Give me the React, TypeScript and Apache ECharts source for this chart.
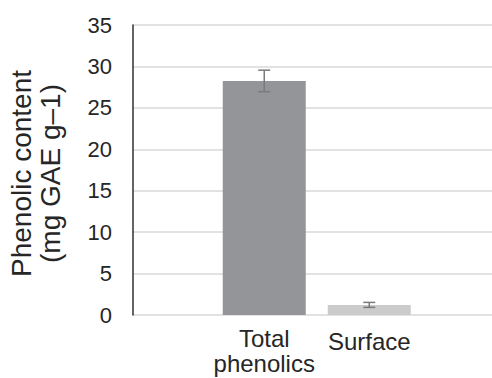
import React, { useEffect, useRef } from "react";
import * as echarts from "echarts";

const categories = ["Total phenolics", "Surface"];
const values = [28.25, 1.22];
const errors = [1.3, 0.3];
const barColors = ["#939598", "#cbcbcb"];
const slotIndex = [2, 4];
const slotCount = 7;
const yTicks = { min: 0, max: 35, interval: 5 };
const yTitle = ["Phenolic content", "(mg GAE g\u20131)"];

export default function App() {
  const ref = useRef<HTMLDivElement>(null);
  useEffect(() => {
    if (!ref.current) return;
    const chart = echarts.init(ref.current, null, { renderer: "svg" });
    const axisData: string[] = Array.from({ length: slotCount }, () => "");
    const barData: any[] = Array.from({ length: slotCount }, () => "-");
    categories.forEach((c, i) => {
      axisData[slotIndex[i]] = c;
      barData[slotIndex[i]] = { value: values[i], itemStyle: { color: barColors[i] } };
    });
    const errData = categories.map((_, i) => [slotIndex[i], values[i], errors[i]]);
    const font = "'Liberation Sans', Arial, sans-serif";
    chart.setOption({
      animation: false,
      grid: { left: 133, top: 25, height: 290, width: 367.5, outerBoundsMode: "none", containLabel: false },
      xAxis: {
        type: "category",
        data: axisData,
        axisLine: { show: false },
        axisTick: { show: false },
        axisLabel: {
          interval: 0,
          margin: 11,
          color: "#262626",
          fontSize: 24,
          fontFamily: font,
          lineHeight: 25,
          formatter: (v: string) =>
            v.indexOf(" ") >= 0 ? v.replace(" ", "\n") : v ? `{s|${v}}` : "",
          rich: {
            s: {
              fontSize: 24,
              fontFamily: font,
              color: "#262626",
              lineHeight: 25,
              padding: [6, 0, 0, 0],
            },
          },
        },
      },
      yAxis: {
        type: "value",
        min: yTicks.min,
        max: yTicks.max,
        interval: yTicks.interval,
        axisLine: { show: true, lineStyle: { color: "#303030", width: 1.5 } },
        axisTick: { show: false },
        splitLine: { lineStyle: { color: "#d9d9d9", width: 1.5 } },
        axisLabel: { color: "#262626", fontSize: 22, fontFamily: font, margin: 21 },
      },
      graphic: [
        {
          type: "text",
          x: 35.5,
          y: 173.5,
          rotation: Math.PI / 2,
          style: {
            text: yTitle.join("\n"),
            fontSize: 28,
            fontFamily: font,
            fill: "#262626",
            lineHeight: 29,
            align: "center",
            verticalAlign: "middle",
          },
        },
      ],
      series: [
        {
          type: "bar",
          data: barData,
          barWidth: 83,
          z: 2,
        },
        {
          type: "custom",
          data: errData,
          z: 3,
          renderItem: (params: any, api: any) => {
            const idx = api.value(0);
            const v = api.value(1);
            const e = api.value(2);
            const top = api.coord([idx, v + e]);
            const bot = api.coord([idx, v - e]);
            const hw = 6;
            const style = { stroke: "#7a7a7a", lineWidth: 1.5 };
            return {
              type: "group",
              children: [
                { type: "line", shape: { x1: top[0], y1: top[1], x2: bot[0], y2: bot[1] }, style },
                { type: "line", shape: { x1: top[0] - hw, y1: top[1], x2: top[0] + hw, y2: top[1] }, style },
                { type: "line", shape: { x1: bot[0] - hw, y1: bot[1], x2: bot[0] + hw, y2: bot[1] }, style },
              ],
            };
          },
        },
      ],
    });
    return () => chart.dispose();
  }, []);
  return (
    <div
      ref={ref}
      style={{ position: "fixed", left: 0, top: 0, width: 492, height: 378, background: "#fff" }}
    />
  );
}
